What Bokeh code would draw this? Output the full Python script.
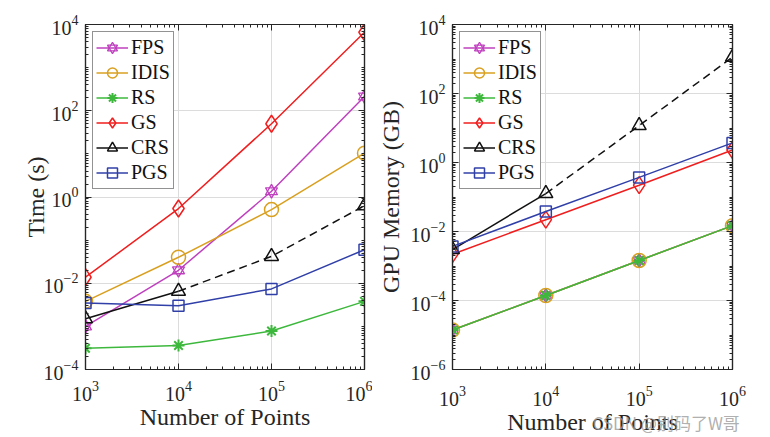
from bokeh.plotting import figure
from bokeh.layouts import row
from bokeh.models import (FixedTicker, LogAxis, Legend, LegendItem, Label,
                          CustomJSTickFormatter, Range1d)
from bokeh.embed import file_html
from bokeh.resources import INLINE

# ---------------- data ----------------
n_points = [1e3, 1e4, 1e5, 1e6]

time_fps = [1.0e-3, 0.020, 1.36, 214]
time_idis = [3.8e-3, 0.040, 0.51, 10.4]
time_rs = [3.1e-4, 3.6e-4, 7.8e-4, 3.8e-3]
time_gs = [0.0138, 0.54, 50, 6600]
time_crs = [1.5e-3, 6.5e-3, 0.042, 0.63]
time_pgs = [3.5e-3, 3.0e-3, 7.4e-3, 0.060]

mem_fps = [1.4e-5, 1.4e-4, 1.45e-3, 1.48e-2]
mem_idis = [1.4e-5, 1.4e-4, 1.45e-3, 1.48e-2]
mem_rs = [1.4e-5, 1.4e-4, 1.45e-3, 1.48e-2]
mem_gs = [2.2e-3, 0.022, 0.22, 2.3]
mem_crs = [3.0e-3, 0.126, 11.8, 1130]
mem_pgs = [3.7e-3, 0.038, 0.37, 3.7]

x_ticks = [1e3, 1e4, 1e5, 1e6]
y_ticks_time = [1e-4, 1e-2, 1e0, 1e2, 1e4]
y_ticks_mem = [1e-6, 1e-4, 1e-2, 1e0, 1e2, 1e4]

series_names = ["FPS", "IDIS", "RS", "GS", "CRS", "PGS"]
colors = {"FPS": "#BF40BF", "IDIS": "#D9A020", "RS": "#3DB83D",
          "GS": "#F01E1E", "CRS": "#111111", "PGS": "#3040A8"}

FONT = "Liberation Serif"
INK = "#262626"


def minor_of(lo, hi):
    out = []
    for e in range(lo, hi):
        for k in range(1, 10):
            out.append(k * 10.0 ** e)
    return out


def blank_axis(tk):
    return LogAxis(ticker=tk, formatter=CustomJSTickFormatter(code="return ''"),
                   axis_line_color=INK, axis_line_width=1.2,
                   major_tick_in=6, major_tick_out=0,
                   minor_tick_in=3, minor_tick_out=0,
                   major_tick_line_color=INK, minor_tick_line_color=INK,
                   major_label_standoff=0, major_label_text_font_size="1px")


def make_fig(width, mb_left, mb_right, y_lo, y_hi, yt, ylabel, ylab_standoff):
    p = figure(width=width, height=437, x_axis_type="log", y_axis_type="log",
               x_range=Range1d(1e3, 1e6), y_range=Range1d(10.0 ** y_lo, 10.0 ** y_hi),
               output_backend="svg", toolbar_location=None,
               min_border_left=mb_left, min_border_right=mb_right,
               min_border_top=24, min_border_bottom=68)
    p.background_fill_color = "white"
    p.border_fill_color = None
    p.outline_line_color = INK
    p.outline_line_width = 1.2
    xt = FixedTicker(ticks=x_ticks, minor_ticks=minor_of(3, 6))
    ytk = FixedTicker(ticks=yt, minor_ticks=minor_of(y_lo, y_hi))
    p.xaxis.ticker = xt
    p.yaxis.ticker = ytk
    p.xgrid.ticker = xt
    p.ygrid.ticker = ytk
    for g in (p.xgrid, p.ygrid):
        g.grid_line_color = "#dcdcdc"
        g.grid_line_width = 1
    for ax in (p.xaxis, p.yaxis):
        ax.axis_line_color = INK
        ax.axis_line_width = 1.2
        ax.major_tick_in = 6
        ax.major_tick_out = 0
        ax.minor_tick_in = 3
        ax.minor_tick_out = 0
        ax.major_tick_line_color = INK
        ax.minor_tick_line_color = INK
        ax.major_label_text_font = FONT
        ax.major_label_text_font_size = "20px"
        ax.major_label_text_color = INK
        ax.axis_label_text_font = FONT
        ax.axis_label_text_font_size = "24px"
        ax.axis_label_text_font_style = "normal"
        ax.axis_label_text_color = INK
    p.xaxis.axis_label = "Number of Points"
    p.yaxis.axis_label = ylabel
    p.xaxis.major_label_standoff = 11
    p.yaxis.major_label_standoff = 7
    p.xaxis.axis_label_standoff = 0
    p.yaxis.axis_label_standoff = ylab_standoff
    p.add_layout(blank_axis(ytk), "right")
    p.add_layout(blank_axis(xt), "above")
    return p, xt


def add_series(p, data):
    items = []
    for name in series_names:
        ys = data[name]
        c = colors[name]
        rends = []
        if name == "CRS":
            l1 = p.line(n_points[:2], ys[:2], line_color=c, line_width=1.5)
            p.line(n_points[1:], ys[1:], line_color=c, line_width=1.5,
                   line_dash="8 5")
            rends.append(l1)
            rends.append(p.scatter(n_points, ys, marker="triangle", size=14,
                                   fill_color=None, line_color=c, line_width=1.5))
        else:
            rends.append(p.line(n_points, ys, line_color=c, line_width=1.5))
            if name == "FPS":
                for mk in ("triangle", "inverted_triangle"):
                    rends.append(p.scatter(n_points, ys, marker=mk, size=12,
                                           fill_color=None, line_color=c,
                                           line_width=1.3))
            elif name == "IDIS":
                rends.append(p.scatter(n_points, ys, marker="circle", size=14,
                                       fill_color=None, line_color=c, line_width=1.5))
            elif name == "RS":
                rends.append(p.scatter(n_points, ys, marker="asterisk", size=12,
                                       line_color=c, line_width=2))
            elif name == "GS":
                rends.append(p.scatter(n_points, ys, marker="diamond", size=17,
                                       fill_color=None, line_color=c, line_width=1.5))
            elif name == "PGS":
                rends.append(p.scatter(n_points, ys, marker="square", size=11,
                                       fill_color=None, line_color=c, line_width=1.5))
        items.append(LegendItem(label=name, renderers=rends))
    legend = Legend(items=items, location="top_left", margin=7, padding=3,
                    spacing=0, glyph_width=32, glyph_height=25, label_height=25,
                    label_standoff=3, label_text_font=FONT,
                    label_text_font_size="20px", label_text_color="#111111",
                    label_text_baseline="middle",
                    border_line_color=INK, border_line_width=1.2,
                    background_fill_color="white", background_fill_alpha=1.0)
    p.add_layout(legend, "center")


p1, _ = make_fig(372, 85, 8, -4, 4, y_ticks_time, "Time (s)", -8)
add_series(p1, {"FPS": time_fps, "IDIS": time_idis, "RS": time_rs,
                "GS": time_gs, "CRS": time_crs, "PGS": time_pgs})

p2, xt2 = make_fig(398, 80, 38, -6, 4, y_ticks_mem, "GPU Memory (GB)", 4)
add_series(p2, {"FPS": mem_fps, "IDIS": mem_idis, "RS": mem_rs,
                "GS": mem_gs, "CRS": mem_crs, "PGS": mem_pgs})

# watermark: placed in an inner bottom panel, the main x axis keeps only its texts
main_x = p2.below[0]
main_x.axis_line_color = None
main_x.major_tick_line_color = None
main_x.minor_tick_line_color = None
main_x.major_label_standoff = -9
wm = Label(x=140, y=-28, x_units="screen", y_units="screen",
           text="CSDN @别码了W哥",
           text_font="Noto Sans CJK SC", text_font_size="17px",
           text_color="#9a9a9a", text_alpha=0.8, text_baseline="middle",
           text_align="left")
p2.below = [blank_axis(xt2), wm, main_x]

layout = row(p1, p2)
open("out.html", "w").write(file_html(layout, INLINE))
